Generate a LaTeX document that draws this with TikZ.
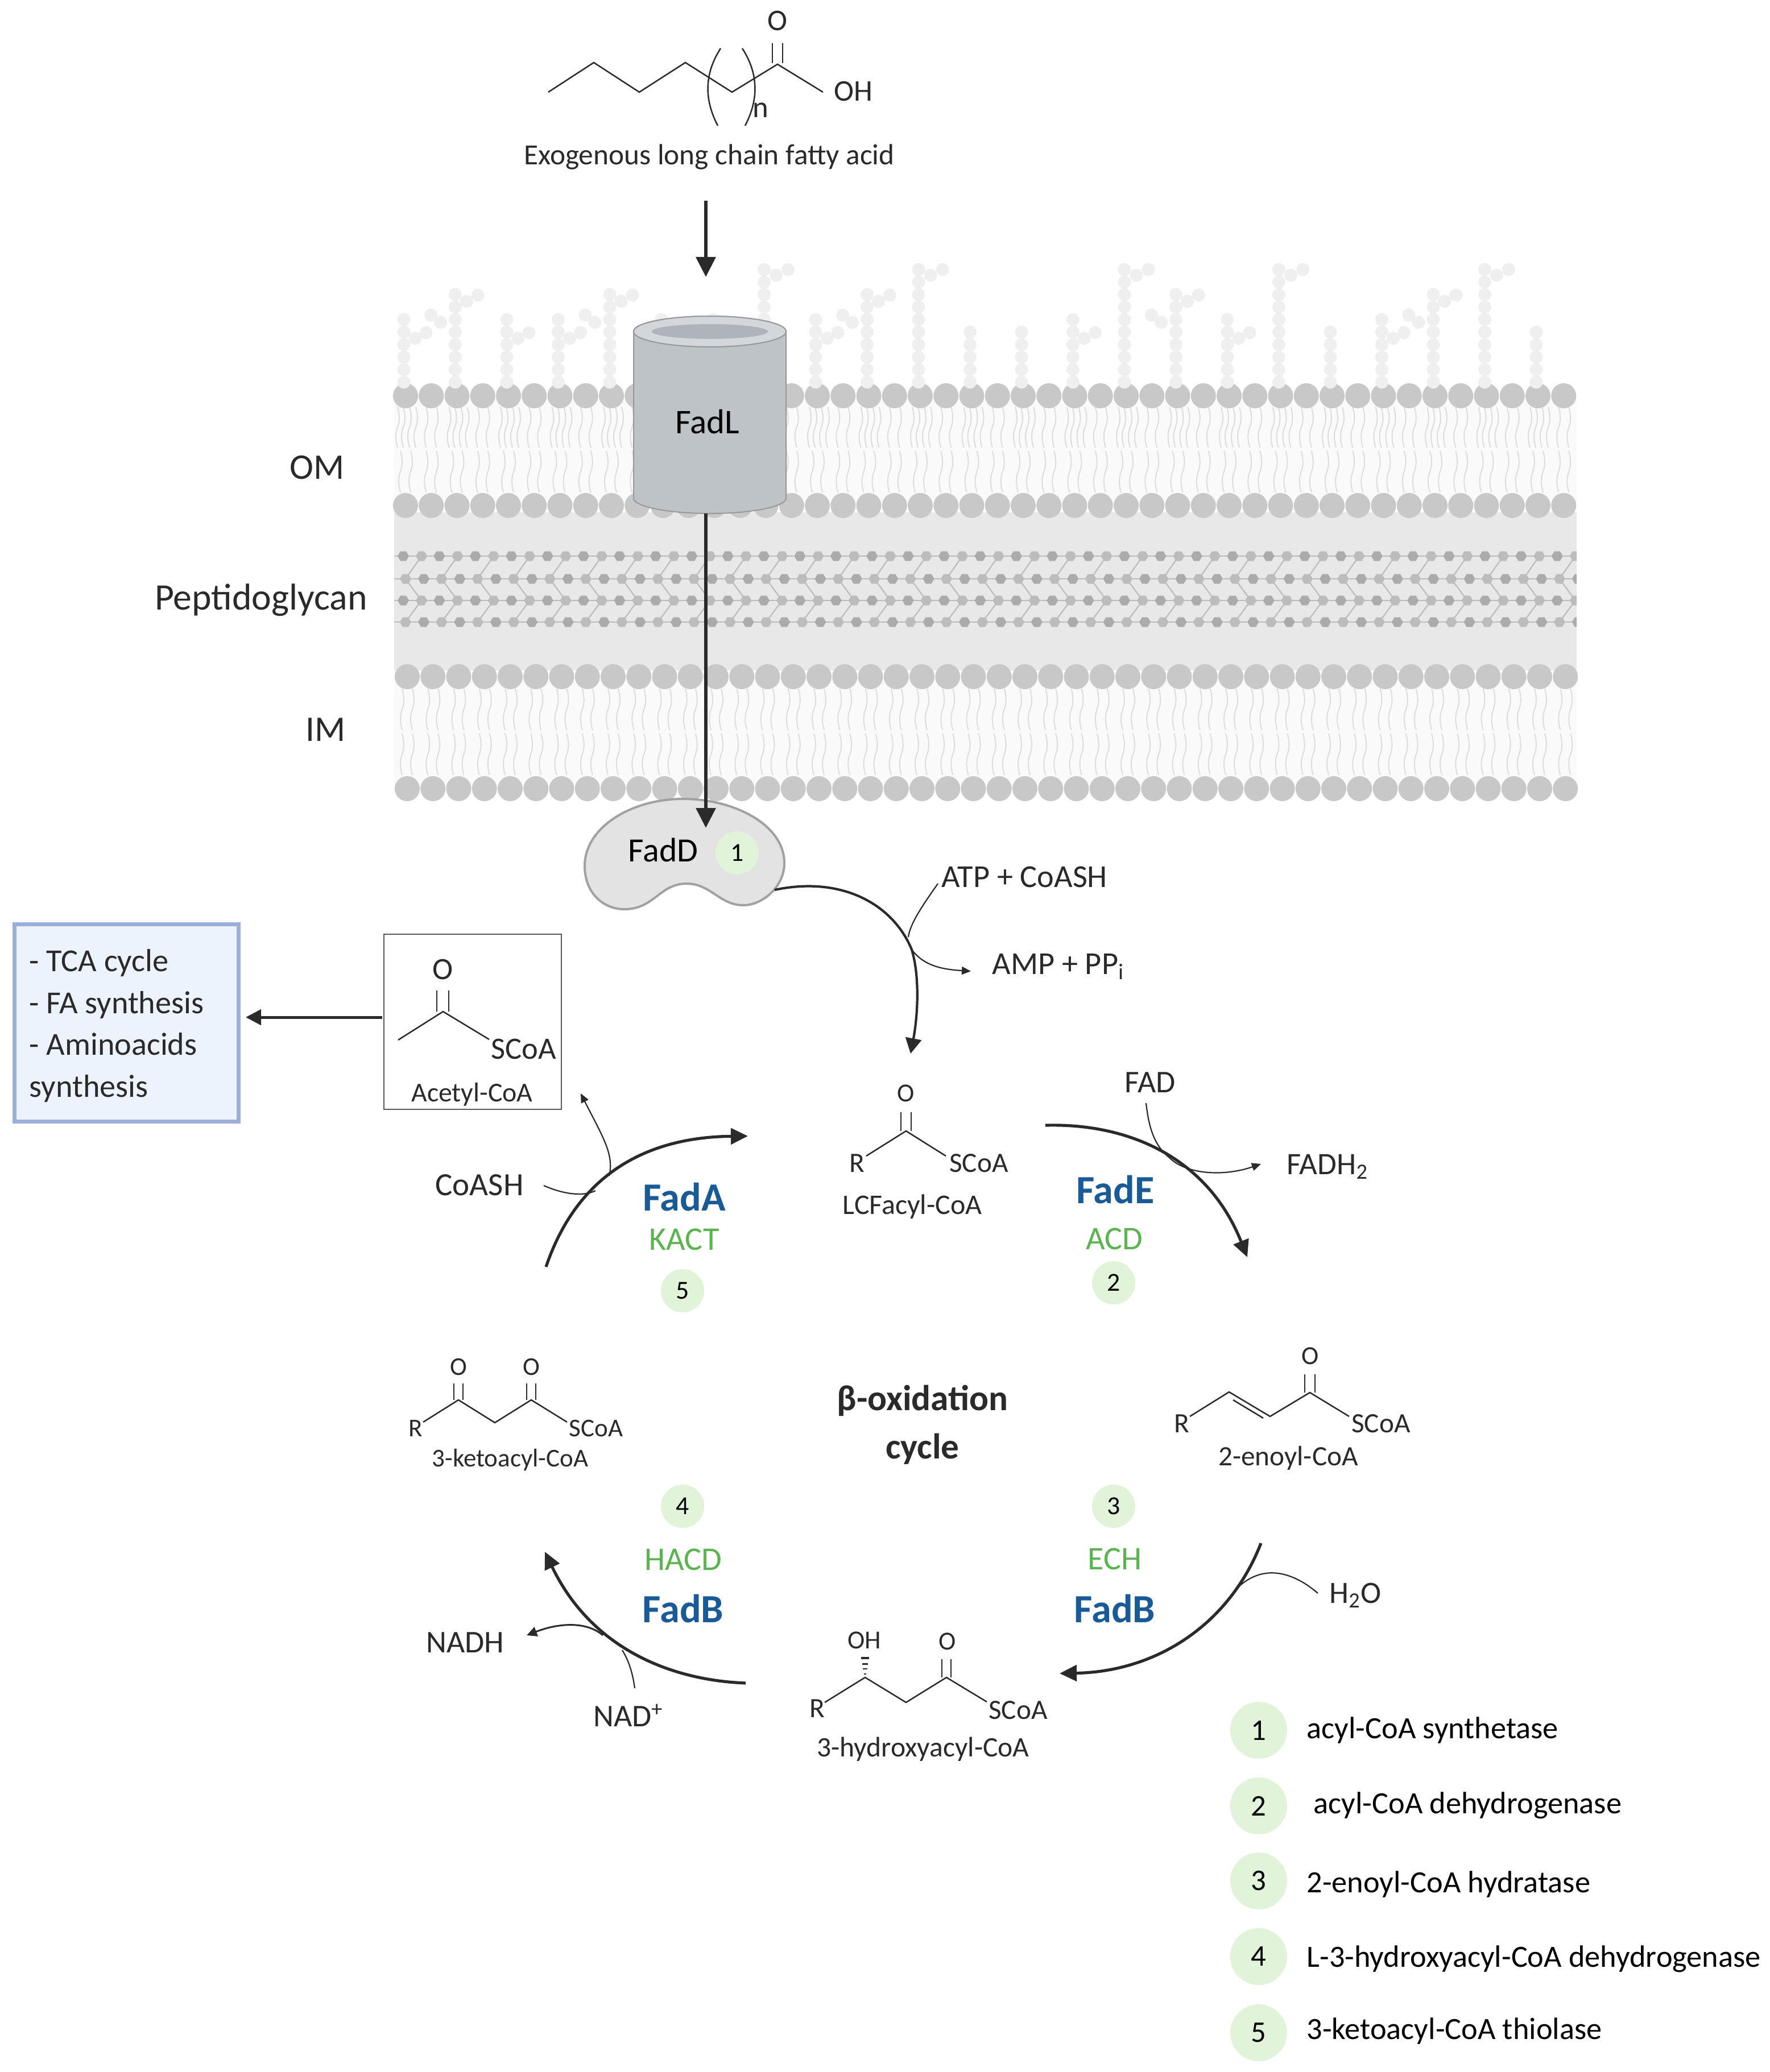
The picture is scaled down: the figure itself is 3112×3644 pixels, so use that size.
\documentclass[tikz,border=0pt]{standalone}
\usepackage{fontspec}
\setmainfont{Carlito}
\usetikzlibrary{arrows.meta,calc}
\definecolor{ink}{HTML}{2A2A2A}
\definecolor{headc}{HTML}{C8C8C8}
\definecolor{tailc}{HTML}{DEDEDE}
\definecolor{lpsc}{HTML}{EFEFEF}
\definecolor{pgd}{HTML}{ABABAB}
\definecolor{pgl}{HTML}{BCBCBC}
\definecolor{badge}{HTML}{E1F3D9}
\definecolor{fadblue}{HTML}{1A5A96}
\definecolor{ezgreen}{HTML}{5BB450}
\newcommand{\fs}[1]{\fontsize{#1}{#1}\selectfont}
\newcommand{\wav}[3]{\draw[tail] ({#1},{#2}) .. controls ({#1+4},{#2+#3*.2}) and ({#1+4},{#2+#3*.35}) .. ({#1},{#2+#3*.5}) .. controls ({#1-4},{#2+#3*.65}) and ({#1-4},{#2+#3*.8}) .. ({#1},{#2+#3});}
\newcommand{\hexa}[3]{\fill[#3] ({#1-10},{#2}) -- ({#1-5},{#2-8.5}) -- ({#1+5},{#2-8.5}) -- ({#1+10},{#2}) -- ({#1+5},{#2+8.5}) -- ({#1-5},{#2+8.5}) -- cycle;}
\newcommand{\lpsdot}[2]{\fill[lpsc] ({#1},{#2}) circle[radius=0.115cm];}
\newcommand{\lpscol}[2]{\foreach \k in {1,...,#2}{\lpsdot{#1}{672-(\k-1)*22}}}
\newcommand{\lpsA}[1]{\lpscol{#1}{6}\lpsdot{#1+20}{595}\lpsdot{#1+39}{585}}
\newcommand{\lpsB}[1]{\lpscol{#1}{8}\lpsdot{#1-26}{567}\lpsdot{#1-43}{554}\lpsdot{#1+20}{530}\lpsdot{#1+40}{519}}
\newcommand{\lpsT}[1]{\lpscol{#1}{10}\lpsdot{#1+21}{484}\lpsdot{#1+42}{474}}
\newcommand{\lpsS}[1]{\lpscol{#1}{5}}
\tikzset{
  x=0.01cm,y=-0.01cm,
  txt/.style={inner sep=0pt,text=ink,font=\fs{16}},
  small/.style={inner sep=0pt,text=ink,font=\fs{14}},
  kets/.style={inner sep=0pt,text=ink,font=\fs{12.8}},
  big/.style={inner sep=0pt,text=ink,font=\fs{18}},
  enz/.style={inner sep=0pt,text=fadblue,font=\bfseries\fs{20}},
  gene/.style={inner sep=0pt,text=ezgreen,font=\fs{16.5}},
  bond/.style={draw=ink,line width=0.025cm},
  tail/.style={draw=tailc,line width=0.021cm},
  head/.style={fill=headc},
  badge s/.style={circle,fill=badge,minimum size=0.76cm,inner sep=0pt,text=black,font=\fs{13}},
  badge l/.style={circle,fill=badge,minimum size=1cm,inner sep=0pt,text=black,font=\fs{15}},
  legend/.style={inner sep=0pt,anchor=west,text=black,font=\fs{15.45}},
  thick arrow/.style={draw=ink,line width=0.06cm,-{Triangle[length=0.35cm,width=0.34cm]}},
  cyc arrow/.style={draw=ink,line width=0.052cm,-{Triangle[length=0.3cm,width=0.28cm]}},
  thin arrow/.style={draw=ink,line width=0.022cm,-{Triangle[length=0.16cm,width=0.14cm]}},
  thin/.style={draw=ink,line width=0.022cm},
}
\begin{document}
\begin{tikzpicture}
\useasboundingbox (0,0) rectangle (3112,3644);

% --- membrane backgrounds
\fill[fill=black!2] (693,696) rectangle (2772,889);
\fill[fill=black!2] (693,1190) rectangle (2772,1387);
\fill[fill=black!9] (693,901) rectangle (2772,1179);

% --- tails
\foreach \i in {0,...,45}{
  \pgfmathsetmacro{\xa}{713+\i*45.25}
  \pgfmathsetmacro{\xb}{716+\i*45.25}
  \ifodd\i
    \wav{\xa-9}{716}{71}\wav{\xa+9}{716}{71}
  \else
    \wav{\xa-14}{716}{71}\wav{\xa-4}{716}{71}\wav{\xa+7}{716}{71}\wav{\xa+18}{716}{71}
  \fi
  \wav{\xa-9}{793}{73}\wav{\xa+9}{793}{73}
  \wav{\xb-9}{1211}{73}\wav{\xb+9}{1211}{73}
  \wav{\xb-9}{1290}{73}\wav{\xb+9}{1290}{73}
}
% --- heads
\foreach \i in {0,...,45}{
  \pgfmathsetmacro{\xa}{713+\i*45.25}
  \pgfmathsetmacro{\xb}{716+\i*45.25}
  \fill[head] (\xa,696) circle[radius=0.22cm];
  \fill[head] (\xa,889) circle[radius=0.22cm];
  \fill[head] (\xb,1190) circle[radius=0.22cm];
  \fill[head] (\xb,1387) circle[radius=0.22cm];
}
% --- LPS
\foreach \i/\t in {0/A,1/B,2/A,3/A,4/B,5/A,6/A,7/T,8/A,9/B,10/T,11/S,12/S,13/A,14/T,15/B,16/A,17/T,18/S,19/A,20/B,21/T,22/S}{
  \pgfmathsetmacro{\xc}{710+\i*90.5}
  \csname lps\t\endcsname{\xc}
}
% --- peptidoglycan
\begin{scope}
\clip (693,950) rectangle (2772,1120);
\foreach \yy in {978,1018,1056,1094}{\draw[draw=pgl,line width=0.025cm] (693,\yy) -- (2772,\yy);}
\foreach \k in {0,...,32}{
  \pgfmathsetmacro{\xd}{709+\k*63.4}
  \pgfmathsetmacro{\xe}{741+\k*63.4}
  \pgfmathsetmacro{\xf}{713+\k*63.4}
  \pgfmathsetmacro{\xg}{745+\k*63.4}
  \draw[draw=pgl,line width=0.022cm] (\xe,978) -- (\xf,1018) -- (\xe,1056) -- (\xf,1094);
  \hexa{\xd}{978}{pgd}\hexa{\xe}{978}{pgl}
  \hexa{\xf}{1018}{pgl}\hexa{\xg}{1018}{pgd}
  \hexa{\xd}{1056}{pgd}\hexa{\xe}{1056}{pgl}
  \hexa{\xf}{1094}{pgl}\hexa{\xg}{1094}{pgd}
}
\end{scope}

% --- FadL cylinder
\draw[draw=black!35!gray!60,fill={rgb,255:red,189;green,195;blue,199},line width=0.02cm]
  (1114,583) -- (1114,876) arc[start angle=180,end angle=360,x radius=1.34cm,y radius=0.27cm]
  -- (1382,583) arc[start angle=0,end angle=180,x radius=1.34cm,y radius=0.27cm] -- cycle;
\draw[draw=black!35!gray!60,fill={rgb,255:red,211;green,214;blue,218},line width=0.02cm] (1248,583) ellipse[x radius=1.34cm,y radius=0.27cm];
\fill[fill={rgb,255:red,174;green,180;blue,185}] (1248,583) ellipse[x radius=1.02cm,y radius=0.13cm];
\node[inner sep=0pt,text=black,font=\fs{17.3}] (fadl) at (1244,742) {FadL};
\coordinate (fadlBottom) at (1241,903);

% --- labels at left
\node[big] (om) at (558,822) {OM};
\node[big,font=\fs{18.7}] (pg) at (459,1055) {Peptidoglycan};
\node[big] (im) at (573,1283) {IM};

% --- fatty acid
\draw[bond] (964,162) -- (1044,110) -- (1124,162) -- (1205,110) -- (1287,162) -- (1367,113) -- (1447,162);
\draw[bond] (1358,76) -- (1358,111) (1376,76) -- (1376,111);
\draw[bond] (1267,85) .. controls (1238,130) and (1238,175) .. (1262,221);
\draw[bond] (1305,85) .. controls (1334,130) and (1334,175) .. (1310,221);
\node[small,font=\fs{15}] (faO) at (1367,37) {O};
\node[small,font=\fs{15},anchor=west] (faOH) at (1466,161) {OH};
\node[small,font=\fs{15}] (fan) at (1337,194) {n};
\node[txt,font=\fs{14.6}] (falabel) at (1247,276) {Exogenous long chain fatty acid};
\coordinate (faEnd) at (1241,353);
\coordinate (omTip) at (1241,487);
\draw[thick arrow] (faEnd) -- (omTip);

% --- FadD
\draw[draw=black!37,fill=black!11,line width=0.04cm] (1201,1405) .. controls (1290,1405) and (1379,1450) .. (1379,1518)
  .. controls (1379,1560) and (1340,1592) .. (1307,1592) .. controls (1265,1592) and (1250,1554) .. (1207,1554)
  .. controls (1160,1554) and (1150,1599) .. (1098,1599) .. controls (1060,1599) and (1028,1570) .. (1028,1523)
  .. controls (1028,1455) and (1110,1405) .. (1201,1405) -- cycle;
\node[inner sep=0pt,text=black,font=\fs{17}] (fadd) at (1166,1495) {FadD};
\node[badge s] (b1) at (1296,1500) {1};
\coordinate (faddTip) at (1241,1456);
\draw[thick arrow] (fadlBottom) -- (faddTip);

% --- FadD -> LCFacyl-CoA
\coordinate (faddOut) at (1362,1565);
\coordinate (lcTop) at (1601,1853);
\coordinate (atpEnd) at (1649,1554);
\coordinate (atpJoin) at (1597,1648);
\coordinate (ampStart) at (1603,1670);
\coordinate (ampTip) at (1707,1708);
\draw[draw=ink,line width=0.042cm,-{Triangle[length=0.27cm,width=0.28cm]}] (faddOut) .. controls (1480,1540) and (1570,1590) .. (ampStart) .. controls (1618,1720) and (1613,1790) .. (lcTop);
\draw[thin] (atpEnd) .. controls (1620,1595) and (1600,1625) .. (atpJoin);
\draw[thin arrow] (ampStart) .. controls (1625,1700) and (1660,1705) .. (ampTip);
\node[txt,anchor=west] (atp) at (1655,1542) {ATP + CoASH};
\node[txt,anchor=west] (amp) at (1744,1700) {AMP + PP\textsubscript{i}};

% --- blue box
\node[draw={rgb,255:red,154;green,176;blue,216},fill={rgb,255:red,236;green,243;blue,252},line width=0.07cm,
  minimum width=3.93cm,minimum height=3.47cm,inner sep=0pt] (tca) at (222.5,1799) {};
\node[inner sep=0pt,anchor=west,align=left,text=ink,font=\fontsize{16}{20.9}\selectfont] (tcatext) at (51,1804)
  {- TCA cycle\\- FA synthesis\\- Aminoacids\\synthesis};

% --- acetyl box
\node[draw=black!65,line width=0.02cm,minimum width=3.12cm,minimum height=3.08cm,inner sep=0pt] (acbox) at (831,1797) {};
\draw[bond] (700,1829) -- (779,1779) -- (860,1828);
\draw[bond] (768,1742) -- (768,1779) (789,1742) -- (789,1779);
\node[txt,font=\fs{15.5}] (acO) at (779,1705) {O};
\node[txt,font=\fs{15.5}] (acS) at (921,1845) {SCoA};
\node[small,font=\fs{13.6}] (acl) at (830,1925) {Acetyl-CoA};
\coordinate (acOut) at (672,1789);
\coordinate (tcaIn) at (432,1789);
\draw[draw=ink,line width=0.05cm,-{Triangle[length=0.27cm,width=0.27cm]}] (acOut) -- (tcaIn);

% --- LCFacyl-CoA
\draw[bond] (1523,2033) -- (1593,1989) -- (1663,2033);
\draw[bond] (1584,1956) -- (1584,1989) (1602,1956) -- (1602,1989);
\node[small,font=\fs{13}] (lcO) at (1593,1923) {O};
\node[small] (lcR) at (1507,2046) {R};
\node[small] (lcS) at (1721,2046) {SCoA};
\node[small,font=\fs{14.2}] (lcl) at (1604,2122) {LCFacyl-CoA};

% --- 2-enoyl-CoA
\draw[bond] (2092,2491) -- (2161,2448) -- (2233,2491) -- (2303,2449) -- (2372,2491);
\draw[bond] (2168,2462) -- (2221,2494);
\draw[bond] (2294,2417) -- (2294,2449) (2312,2417) -- (2312,2449);
\node[small,font=\fs{13}] (enO) at (2304,2385) {O};
\node[small] (enR) at (2078,2504) {R};
\node[small] (enS) at (2428,2504) {SCoA};
\node[small] (enl) at (2265,2564) {2-enoyl-CoA};

% --- 3-hydroxyacyl-CoA
\draw[bond] (1450,2994) -- (1521,2950) -- (1593,2994) -- (1664,2950) -- (1735,2993);
\draw[bond] (1656,2918) -- (1656,2950) (1672,2918) -- (1672,2950);
\draw[draw=ink,line width=0.02cm] (1519,2944) -- (1523,2944);
\draw[draw=ink,line width=0.02cm] (1517,2935) -- (1525,2935);
\draw[draw=ink,line width=0.03cm] (1516,2926) -- (1526,2926);
\draw[draw=ink,line width=0.035cm] (1514,2916) -- (1528,2916);
\node[small,font=\fs{13}] (hyOH) at (1520,2885) {OH};
\node[small,font=\fs{13}] (hyO) at (1666,2887) {O};
\node[small] (hyR) at (1437,3005) {R};
\node[small] (hyS) at (1790,3008) {SCoA};
\node[small,font=\fs{14.1}] (hyl) at (1623,3076) {3-hydroxyacyl-CoA};

% --- 3-ketoacyl-CoA
\draw[bond] (744,2501) -- (806,2462) -- (870,2502) -- (934,2462) -- (997,2501);
\draw[bond] (798,2433) -- (798,2462) (814,2433) -- (814,2462) (926,2433) -- (926,2462) (942,2433) -- (942,2462);
\node[kets] (keO1) at (806,2404) {O};
\node[kets] (keO2) at (934,2404) {O};
\node[kets] (keR) at (731,2512) {R};
\node[kets] (keS) at (1048,2512) {SCoA};
\node[kets] (kel) at (897,2567) {3-ketoacyl-CoA};

% --- centre
\node[inner sep=0pt,text=ink,font=\bfseries\fs{18}] (beta) at (1622,2463) {β-oxidation};
\node[inner sep=0pt,text=ink,font=\bfseries\fs{18}] (cyc) at (1622,2548) {cycle};

% --- step FadE
\coordinate (e1) at (1838,1979);
\coordinate (e2) at (2193,2211);
\coordinate (fadS) at (2015,1940);
\coordinate (fadJ) at (2056,2036);
\coordinate (fadT) at (2217,2047);
\draw[cyc arrow] (e1) .. controls (1990,1975) and (2125,2040) .. (e2);
\draw[thin] (fadS) .. controls (2020,1985) and (2030,2015) .. (fadJ);
\draw[thin arrow] (fadJ) .. controls (2085,2065) and (2150,2070) .. (fadT);
\node[txt,font=\fs{15.8}] (fad) at (2022,1904) {FAD};
\node[txt,font=\fs{15.6},anchor=west] (fadh) at (2262,2052) {FADH\textsubscript{2}};
\node[enz] (fade) at (1961,2092) {FadE};
\node[gene] (acd) at (1959,2179) {ACD};
\node[badge s] (b2) at (1958,2256) {2};

% --- step FadB right
\coordinate (b3s) at (2217,2714);
\coordinate (b3t) at (1863,2943);
\coordinate (wS) at (2317,2802);
\coordinate (wJ) at (2175,2793);
\draw[cyc arrow] (b3s) .. controls (2160,2860) and (2030,2940) .. (b3t);
\draw[thin] (wS) .. controls (2280,2770) and (2225,2745) .. (wJ);
\node[txt,font=\fs{15.5}] (h2o) at (2383,2806) {H\textsubscript{2}O};
\node[badge s] (b3) at (1958,2649) {3};
\node[gene] (ech) at (1960,2742) {ECH};
\node[enz] (fadbr) at (1960,2829) {FadB};

% --- step FadB left
\coordinate (b4s) at (1311,2960);
\coordinate (b4t) at (958,2729);
\coordinate (nS) at (1060,2876);
\coordinate (nT) at (926,2876);
\coordinate (pS) at (1116,2969);
\coordinate (pJ) at (1094,2902);
\draw[cyc arrow] (b4s) .. controls (1180,2955) and (1040,2900) .. (b4t);
\draw[draw=ink,line width=0.03cm,-{Triangle[length=0.18cm,width=0.17cm]}] (nS) .. controls (1030,2850) and (980,2855) .. (nT);
\draw[thin] (pS) .. controls (1112,2940) and (1105,2920) .. (pJ);
\node[txt,font=\fs{15.8}] (nadh) at (818,2889) {NADH};
\node[txt,font=\fs{15.8}] (nad) at (1105,3017) {NAD\textsuperscript{+}};
\node[badge s] (b4) at (1200,2649) {4};
\node[gene] (hacd) at (1201,2743) {HACD};
\node[enz] (fadbl) at (1201,2829) {FadB};

% --- step FadA
\coordinate (a5s) at (960,2228);
\coordinate (a5t) at (1315,1998);
\coordinate (cS) at (956,2085);
\coordinate (cJ) at (1047,2094);
\coordinate (acS2) at (1071,2068);
\coordinate (acT) at (1021,1923);
\draw[cyc arrow] (a5s) .. controls (1010,2080) and (1120,2000) .. (a5t);
\draw[thin] (cS) .. controls (990,2100) and (1025,2105) .. (cJ);
\draw[thin arrow] (acS2) .. controls (1080,2030) and (1060,2000) .. (acT);
\node[txt,font=\fs{16.2}] (coash) at (843,2084) {CoASH};
\node[enz] (fada) at (1203,2105) {FadA};
\node[gene] (kact) at (1203,2180) {KACT};
\node[badge s] (b5) at (1200,2270) {5};

% --- legend
\node[badge l] (l1) at (2213,3043) {1};
\node[badge l] (l2) at (2213,3176) {2};
\node[badge l] (l3) at (2213,3308) {3};
\node[badge l] (l4) at (2213,3441) {4};
\node[badge l] (l5) at (2213,3575) {5};
\node[legend] (t1) at (2297,3043) {acyl-CoA synthetase};
\node[legend] (t2) at (2309,3175) {acyl-CoA dehydrogenase};
\node[legend] (t3) at (2297,3314) {2-enoyl-CoA hydratase};
\node[legend] (t4) at (2297,3445) {L-3-hydroxyacyl-CoA dehydrogenase};
\node[legend] (t5) at (2297,3572) {3-ketoacyl-CoA thiolase};
\end{tikzpicture}
\end{document}
